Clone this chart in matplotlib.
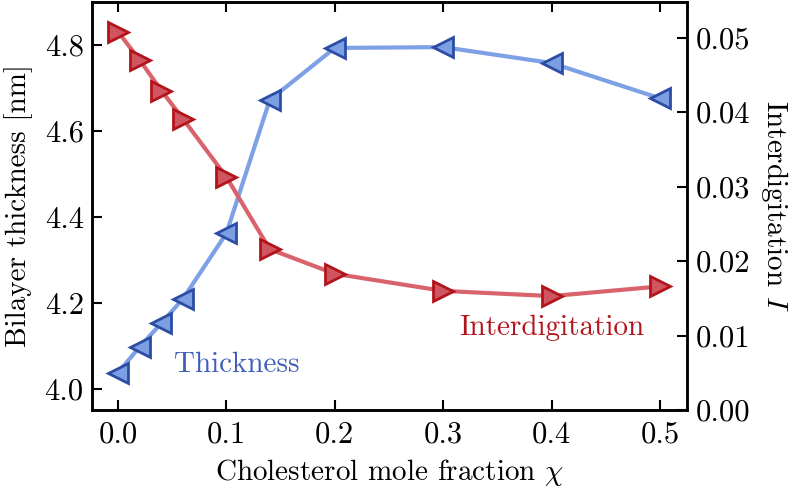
import matplotlib
matplotlib.use('Agg')
import matplotlib.pyplot as plt

plt.rcParams['font.family'] = 'serif'
plt.rcParams['font.serif'] = ['cmr10']
plt.rcParams['mathtext.fontset'] = 'cm'
plt.rcParams['axes.formatter.use_mathtext'] = True
plt.rcParams['font.size'] = 21

chi = [0.0, 0.02, 0.04, 0.06, 0.10, 0.14, 0.20, 0.30, 0.40, 0.50]
thickness = [4.038, 4.098, 4.153, 4.210, 4.362, 4.672, 4.793, 4.795, 4.758, 4.676]
interdig = [0.0508, 0.0470, 0.0429, 0.0391, 0.0313, 0.0216, 0.0183, 0.0160, 0.0153, 0.0166]

xticks = [0.0, 0.1, 0.2, 0.3, 0.4, 0.5]
lticks = [4.0, 4.2, 4.4, 4.6, 4.8]
rticks = [0.00, 0.01, 0.02, 0.03, 0.04, 0.05]

fig = plt.figure(figsize=(7.91, 4.87), dpi=100)
ax = fig.add_axes([0.1163, 0.158, 0.7522, 0.838])
ax2 = ax.twinx()

ax.plot(chi, thickness, '-<', color='#7ea1e6', lw=3, ms=14,
        mfc='#7c9ee2', mec='#2c4da3', mew=2, zorder=3)
ax2.plot(chi, interdig, '->', color='#d9636b', lw=3, ms=14,
         mfc='#d05560', mec='#b2141c', mew=2, zorder=3)

ax.set_xlim(-0.024, 0.525)
ax.set_ylim(3.951, 4.9)
ax2.set_ylim(0, 0.0548)

ax.set_xticks(xticks)
ax.set_xticklabels(['%.1f' % t for t in xticks])
ax.set_yticks(lticks)
ax.set_yticklabels(['%.1f' % t for t in lticks])
ax2.set_yticks(rticks)
ax2.set_yticklabels(['%.2f' % t for t in rticks])

ax.tick_params(axis='x', direction='in', top=True, length=7, width=1.5, pad=8, labelsize=22)
ax.tick_params(axis='y', direction='in', length=7, width=1.5, pad=6, labelsize=22)
ax2.tick_params(axis='y', direction='in', length=7, width=1.5, pad=6, labelsize=22)
for a in (ax, ax2):
    for s in a.spines.values():
        s.set_linewidth(1.8)

ax.set_xlabel(r'Cholesterol mole fraction $\chi$', labelpad=6)
ax.set_ylabel('Bilayer thickness [nm]', labelpad=8)
ax2.set_ylabel(r'Interdigitation $I$', rotation=270, labelpad=29)

ax.text(0.11, 4.056, 'Thickness', color='#4060b8', ha='center', va='center')
ax2.text(0.40, 0.011, 'Interdigitation', color='#b2141c', ha='center', va='center')

fig.savefig('out.png', dpi=100)
